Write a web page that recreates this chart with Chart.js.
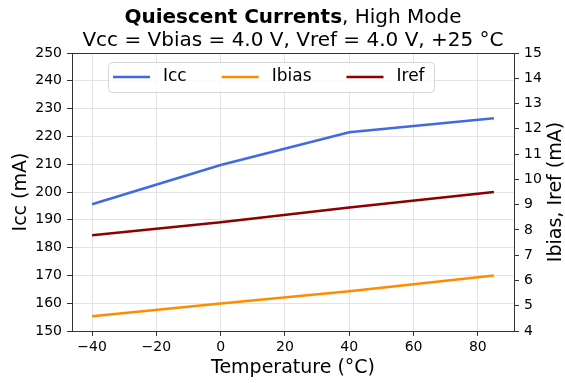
<!DOCTYPE html>
<html>
<head>
<meta charset="utf-8">
<script src="https://cdn.jsdelivr.net/npm/chart.js@4"></script>
<style>
  body { margin: 0; background: #fff; }
  #wrap { position: relative; width: 565px; height: 383px; }
  #title {
    position: absolute; left: 0; top: 5px; width: 586px;
    text-align: center; font-family: "DejaVu Sans", sans-serif;
    font-size: 20px; line-height: 23px; color: #000;
  }
</style>
</head>
<body>
<div id="wrap">
  <div id="title"><b>Quiescent Currents</b>, High Mode<br>Vcc = Vbias = 4.0 V, Vref = 4.0 V, +25 °C</div>
  <canvas id="qcChart" width="565" height="383"></canvas>
</div>
<script>
// temperature points (°C) and measured currents
const temps = [-40, 0, 40, 85];
const icc = [195.6, 209.7, 221.5, 226.5];     // mA, left axis
const ibias = [4.58, 5.09, 5.57, 6.2];        // mA, right axis
const iref = [7.79, 8.3, 8.89, 9.5];          // mA, right axis

const xTicks = [-40, -20, 0, 20, 40, 60, 80];
const seriesNames = ['Icc', 'Ibias', 'Iref'];
const seriesColors = ['#4169e1', '#ff8c00', '#8b0000'];
const rightTitle = 'Ibias, Iref (mA)';

const FONT = '"DejaVu Sans", sans-serif';
const minus = v => String(v).replace('-', '\u2212');

function pts(ys) {
    return temps.map((t, i) => ({ x: t, y: ys[i] }));
}

// top spine + right axis title (reads bottom to top like the left one)
const framePlugin = {
    id: 'frame',
    afterDraw(chart) {
        const { ctx, chartArea: a } = chart;
        ctx.save();
        ctx.strokeStyle = '#333';
        ctx.lineWidth = 1;
        ctx.beginPath();
        ctx.moveTo(a.left, a.top + 0.5);
        ctx.lineTo(a.right, a.top + 0.5);
        ctx.stroke();
        ctx.translate(556, (a.top + a.bottom) / 2);
        ctx.rotate(-Math.PI / 2);
        ctx.font = '19px ' + FONT;
        ctx.fillStyle = '#000';
        ctx.textAlign = 'center';
        ctx.textBaseline = 'middle';
        ctx.fillText(rightTitle, 0, 0);
        ctx.restore();
    }
};

// legend box inside the plot, upper left
const legendPlugin = {
    id: 'boxLegend',
    afterDatasetsDraw(chart) {
        const ctx = chart.ctx;
        const x0 = 108, y0 = 62, w = 326, h = 30, cy = y0 + h / 2;
        ctx.save();
        ctx.beginPath();
        ctx.roundRect(x0 + 0.5, y0 + 0.5, w, h, 4);
        ctx.fillStyle = 'rgba(255,255,255,0.8)';
        ctx.fill();
        ctx.strokeStyle = '#d6d6d6';
        ctx.lineWidth = 1;
        ctx.stroke();
        ctx.font = '17px ' + FONT;
        ctx.textBaseline = 'middle';
        let x = 113;
        chart.data.datasets.forEach(ds => {
            ctx.strokeStyle = ds.borderColor;
            ctx.lineWidth = 2.5;
            ctx.beginPath();
            ctx.moveTo(x, cy);
            ctx.lineTo(x + 37, cy);
            ctx.stroke();
            ctx.fillStyle = '#000';
            ctx.fillText(ds.label, x + 50, cy);
            x += 50 + ctx.measureText(ds.label).width + 35;
        });
        ctx.restore();
    }
};

const tickFont = { family: FONT, size: 14 };
const titleFont = { family: FONT, size: 19 };

new Chart(document.getElementById('qcChart'), {
    type: 'line',
    data: {
        datasets: [
            { label: seriesNames[0], data: pts(icc), yAxisID: 'y', borderColor: seriesColors[0] },
            { label: seriesNames[1], data: pts(ibias), yAxisID: 'y2', borderColor: seriesColors[1] },
            { label: seriesNames[2], data: pts(iref), yAxisID: 'y2', borderColor: seriesColors[2] }
        ].map(d => Object.assign(d, { borderWidth: 2.5, pointRadius: 0, tension: 0, fill: false }))
    },
    options: {
        responsive: false,
        animation: false,
        layout: { padding: { top: 53, left: 0, right: 0, bottom: 0 } },
        plugins: { legend: { display: false }, title: { display: false }, tooltip: { enabled: false } },
        scales: {
            x: {
                type: 'linear',
                min: -46.25,
                max: 91.25,
                afterBuildTicks: s => { s.ticks = xTicks.map(v => ({ value: v })); },
                afterFit: s => { s.height = 52; },
                grid: { color: '#e3e3e3', tickColor: '#333', tickLength: 5 },
                border: { color: '#333' },
                ticks: { font: tickFont, color: '#000', padding: 3, maxRotation: 0, callback: v => minus(v) },
                title: { display: true, text: 'Temperature (°C)', font: titleFont, color: '#000', padding: { top: 0, bottom: 4 } }
            },
            y: {
                position: 'left',
                min: 150,
                max: 250,
                afterFit: s => { s.width = 72; },
                grid: { color: '#e3e3e3', tickColor: '#333', tickLength: 5 },
                border: { color: '#333' },
                ticks: { font: tickFont, color: '#000', stepSize: 10, padding: 5 },
                title: { display: true, text: 'Icc (mA)', font: titleFont, color: '#000', padding: { top: 10, bottom: 0 } }
            },
            y2: {
                position: 'right',
                min: 4,
                max: 15,
                afterFit: s => { s.width = 51; },
                grid: { drawOnChartArea: false, tickColor: '#333', tickLength: 5 },
                border: { color: '#333' },
                ticks: { font: tickFont, color: '#000', stepSize: 1, padding: 5 }
            }
        }
    },
    plugins: [framePlugin, legendPlugin]
});
</script>
</body>
</html>
